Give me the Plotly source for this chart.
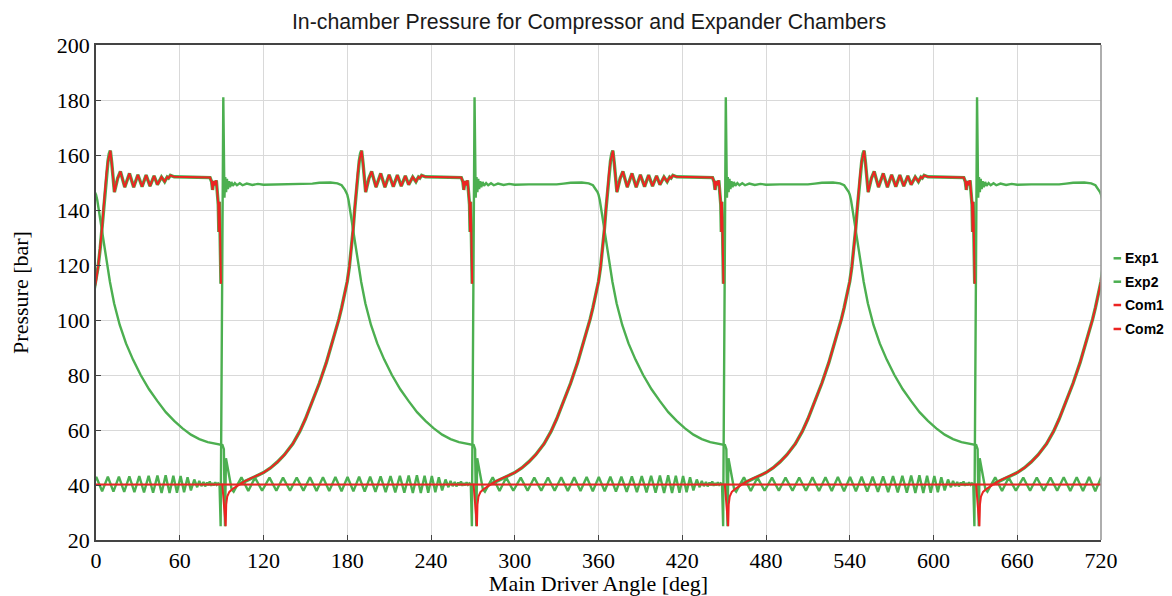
import plotly.graph_objects as go

# ---------------- data (one 360-deg chamber cycle) -------------
EXP_PHASE = [0, 0.9, 2.5, 4.1, 5.8, 7.6, 10, 13, 17, 21.5, 26.5, 32, 38, 44, 50, 56, 62, 68, 74, 80, 86,
             90.6, 91.6, 92.4, 93.1, 95.5, 97.2, 98.6,
             104.2, 109.1, 113.9, 119.0, 124.3, 129.2, 134.0, 139.0, 143.8, 148.6, 153.3, 158.0, 162.6,
             167.1, 171.5, 175.9, 180.2, 184.4, 188.5, 192.5, 196.4, 200.2, 203.9, 207.5, 211.0, 214.4,
             217.7, 220.9, 224.0, 227.0, 229.9, 232.7, 235.4, 238.0, 240.6, 243.1, 245.6, 248.0, 250.4,
             252.5, 254.0, 255.5, 257.0, 258.2, 259.5, 260.5, 261.5, 262.5, 263.5, 264.5, 265.5, 266.5,
             267.5, 268.5, 269.3, 271.2, 272.0, 272.6, 273.2, 273.8, 274.5, 275.2, 276.0, 277.0, 278.0,
             279.5, 281.0, 283.0, 285.0, 288.0, 292.0, 296.0, 300.0, 310.0, 320.0, 330.0, 335.0, 340.0,
             348.0, 353.0, 356.0, 358.4, 359.3]
EXP_P = [145.6, 143.6, 138.5, 133.2, 127.8, 121.8, 113.8, 106.0, 98.2, 91.5, 85.6, 80.0, 74.8, 70.5, 66.5,
         63.3, 60.6, 58.3, 56.7, 55.6, 54.9,
         54.5, 53.0, 25.0, 49.7, 42.4, 38.4, 37.6,
         42.8, 37.8, 42.7, 37.9, 42.7, 37.9, 42.7, 37.9, 42.7, 37.9, 42.8, 37.8, 42.8,
         37.8, 42.9, 37.7, 42.9, 37.7, 43.0, 37.6, 43.0, 37.5, 43.1, 37.4, 43.2, 37.3,
         43.3, 37.2, 43.4, 37.1, 43.5, 37.1, 43.4, 37.2, 43.3, 37.4, 42.8, 38.0, 42.0,
         39.2, 41.5, 39.6, 41.1, 39.5, 40.9, 39.9, 41.3, 39.7, 40.7, 39.9, 41.0, 40.1,
         40.6, 40.3, 25.0, 181.0, 144.5, 152.0, 146.5, 151.3, 147.6, 150.5, 148.3, 150.2, 148.8,
         149.8, 149.0, 149.7, 149.0, 149.6, 149.1, 149.5, 149.2, 149.3, 149.2, 149.3, 149.6, 149.9,
         150.0, 149.7, 149.0, 147.3, 146.5]

COM_PHASE = [0, 45, 90.5, 92.9, 93.3, 94.0, 95.5, 98.0, 100.5, 103.0, 106.0, 110.0, 115.0, 120.0, 125.0,
             130.0, 135.0, 141.0, 146.0, 150.0, 155.0, 160.0, 165.0, 170.0, 172.0, 174.0, 176.0, 178.0,
             180.0, 181.5, 183.0, 184.2, 185.3, 186.4, 187.5, 188.6, 189.5, 190.3, 191.3, 193.2, 195.5,
             197.5, 200.6, 204.0, 207.0, 210.0, 213.0, 215.9, 218.7, 221.6, 224.0, 226.9, 229.2, 231.0,
             232.0, 233.3, 236.0, 245.0, 255.0, 261.7, 262.8, 263.5, 264.3, 265.3, 266.2, 267.0, 267.6,
             268.0, 268.4, 268.8, 269.5, 269.9, 270.2, 315.0]
COM_P = [40.2, 40.2, 40.2, 25.0, 33.0, 35.8, 37.5, 38.6, 39.4, 40.4, 41.2, 42.2, 43.3, 44.5, 46.2,
         48.4, 51.0, 55.0, 59.5, 64.0, 70.5, 77.0, 84.5, 92.8, 96.5, 100.3, 104.5, 109.0,
         114.0, 119.3, 126.0, 132.8, 140.0, 147.2, 153.3, 157.8, 160.5, 161.6, 157.0, 146.5, 151.5,
         154.0, 148.3, 153.3, 148.3, 152.8, 148.5, 152.7, 148.7, 152.4, 149.2, 152.0, 150.3, 152.0,
         151.6, 152.6, 152.1, 152.0, 151.8, 151.8, 150.3, 147.3, 150.5, 149.0, 150.8, 147.0, 142.0,
         132.0, 143.0, 135.0, 113.2, None, 40.2, 40.2]

SERIES_NAMES = ["Exp1", "Exp2", "Com1", "Com2"]
SERIES_SHIFT = [0, 180, 180, 0]          # chamber phase offset in degrees
X_TICKS = [0, 60, 120, 180, 240, 300, 360, 420, 480, 540, 600, 660, 720]
Y_TICKS = [20, 40, 60, 80, 100, 120, 140, 160, 180, 200]

TITLE = "In-chamber Pressure for Compressor and Expander Chambers"
X_TITLE = "Main Driver Angle [deg]"
Y_TITLE = "Pressure [bar]"

GREEN = "#4CAF50"
RED = "#EC2422"


def tile(phase, vals, shift):
    xs, ys, ph = [], [], []
    for k in range(-2, 3):
        for p, v in zip(phase, vals):
            x = p + shift + 360 * k
            if -10 <= x <= 730:
                xs.append(x)
                ys.append(v)
                ph.append(p)
    return xs, ys, ph


fig = go.Figure()

# green edge that shows beneath the red compression/discharge curves
for shift in (SERIES_SHIFT[2], SERIES_SHIFT[3]):
    xs, ys, ph = tile(COM_PHASE, COM_P, shift)
    yu = [v if 102 <= p <= 269.5 else None for p, v in zip(ph, ys)]
    fig.add_trace(go.Scatter(x=xs, y=yu, mode="lines", showlegend=False, hoverinfo="skip",
                             line=dict(color=GREEN, width=3.4), connectgaps=False))

for i, name in enumerate(SERIES_NAMES):
    if name.startswith("Exp"):
        xs, ys, _ = tile(EXP_PHASE, EXP_P, SERIES_SHIFT[i])
        color, width = GREEN, 2.4
    else:
        xs, ys, _ = tile(COM_PHASE, COM_P, SERIES_SHIFT[i])
        color, width = RED, 2.0
    fig.add_trace(go.Scatter(x=xs, y=ys, mode="lines", name=name, showlegend=False,
                             line=dict(color=color, width=width), connectgaps=False))

serif = "Liberation Serif, Times New Roman, serif"
sans = "Liberation Sans, Arial, sans-serif"

# the page body adds an 8 px offset, so the figure is laid out 8 px smaller
W, H = 1164, 588
fig.update_layout(
    width=W, height=H,
    margin=dict(l=88, r=71, t=37, b=56),
    paper_bgcolor="white", plot_bgcolor="white",
    title=dict(text=TITLE, font=dict(family=sans, size=21.3, color="#1a1a1a"),
               x=(589 - 8) / W, xref="container", xanchor="center",
               y=1 - 14 / H, yref="container", yanchor="middle"),
    showlegend=False,
)
fig.update_xaxes(range=[0, 720], tickvals=X_TICKS, ticktext=[str(t) for t in X_TICKS],
                 automargin=False,
                 showgrid=True, gridcolor="#d9d9d9", gridwidth=1,
                 showline=True, linecolor="#444", linewidth=1.6, mirror=True,
                 ticks="inside", ticklen=5, tickcolor="#444", tickwidth=1.2,
                 tickfont=dict(family=serif, size=22, color="black"),
                 title=dict(text=X_TITLE, font=dict(family=serif, size=22, color="black"), standoff=8),
                 zeroline=False)
fig.update_yaxes(range=[20, 200], tickvals=Y_TICKS, ticktext=[str(t) for t in Y_TICKS],
                 automargin=False,
                 showgrid=True, gridcolor="#d9d9d9", gridwidth=1,
                 showline=True, linecolor="#444", linewidth=1.6, mirror=False,
                 ticks="inside", ticklen=5, tickcolor="#444", tickwidth=1.2,
                 tickfont=dict(family=serif, size=22, color="black"),
                 title=dict(text=Y_TITLE, font=dict(family=serif, size=22, color="black"), standoff=24),
                 zeroline=False)

# right frame line (lighter grey)
fig.add_shape(type="line", xref="paper", yref="paper", x0=1, x1=1, y0=0, y1=1,
              line=dict(color="#9a9a9a", width=1.6))

# compact legend at the right
leg_y = [0.5691, 0.5218, 0.4747, 0.4263]
for i, name in enumerate(SERIES_NAMES):
    col = GREEN if name.startswith("Exp") else RED
    fig.add_shape(type="line", xref="paper", yref="paper", x0=1.0125, x1=1.0200,
                  y0=leg_y[i], y1=leg_y[i], line=dict(color=col, width=2.5))
    fig.add_annotation(text="<b>" + name + "</b>", xref="paper", yref="paper", x=1.0215, y=leg_y[i],
                       xanchor="left", yanchor="middle", showarrow=False,
                       font=dict(family=sans, size=14, color="black"))

fig.write_html("out.html")
